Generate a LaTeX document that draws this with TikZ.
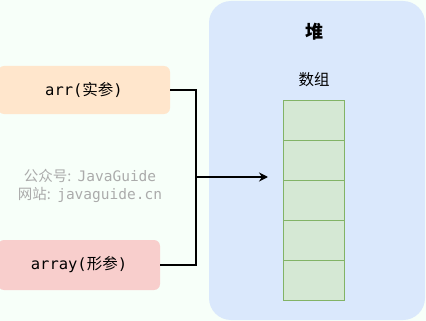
\documentclass[tikz,border=0pt]{standalone}
\usepackage{fontspec}
\newfontfamily\cjk{Noto Sans CJK SC}
\newfontfamily\mono{DejaVu Sans Mono}
\usetikzlibrary{positioning,arrows.meta}
\definecolor{bgcolor}{HTML}{F7FFF9}
\definecolor{heapfill}{HTML}{DAE8FC}
\definecolor{argfill}{HTML}{FFE6CC}
\definecolor{paramfill}{HTML}{F8CECC}
\definecolor{cellfill}{HTML}{D5E8D4}
\definecolor{celldraw}{HTML}{82B366}
\definecolor{markgray}{HTML}{ABABAB}

\begin{document}
\begin{tikzpicture}[
  x=1pt, y=-1pt,
  every node/.style={inner sep=0pt, outer sep=0pt},
  heapbox/.style={fill=heapfill, rounded corners=22pt, minimum width=216pt, minimum height=319pt},
  varbox/.style={rounded corners=6pt, minimum height=48pt, font=\fontsize{15.5}{18}\selectfont},
  cell/.style={fill=cellfill, draw=celldraw, line width=0.8pt, minimum width=61pt, minimum height=40pt},
  link/.style={line width=1.6pt},
  ref/.style={line width=2.2pt, -{Stealth[length=9pt, width=9pt]}}
]
  \useasboundingbox[fill=bgcolor] (0,0) rectangle (426,321);
  \node[heapbox] (heap) at (317,160.5) {};
  \node[font=\cjk\fontsize{18}{20}\selectfont\bfseries] (heaptitle) at (314,32) {堆};
  \node[font=\cjk\fontsize{15.5}{18}\selectfont] (arrtitle) at (314,80) {数组};
  \foreach \i in {0,...,4}
    \node[cell] (c\i) at (313.5,120+40*\i) {};
  \node[varbox, fill=argfill, minimum width=172pt] (arg) at (84,90)
    {{\mono arr(}{\cjk 实参}{\mono )}};
  \node[varbox, fill=paramfill, minimum width=162pt, minimum height=50pt] (param) at (79,265)
    {{\mono array(}{\cjk 形参}{\mono )}};
  \node[text=markgray, align=center, font=\fontsize{14.5}{18}\selectfont] (mark) at (90,186)
    {{\cjk 公众号:} {\mono JavaGuide}\\{\cjk 网站:} {\mono javaguide.cn}};
  \coordinate (join) at (196,177);
  \coordinate (tip) at (268,177);
  \draw[link] (arg.east) -| (join) |- (param.east);
  \draw[ref] (join) -- (tip);
\end{tikzpicture}
\end{document}
